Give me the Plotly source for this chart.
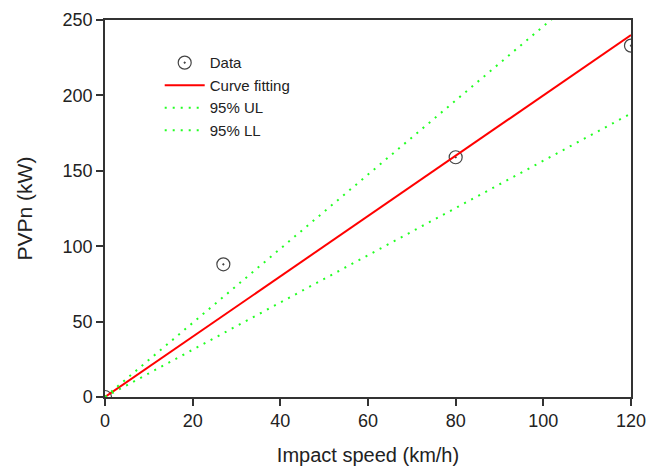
import plotly.graph_objects as go

speed = [0, 27, 80, 120]
pvpn = [0, 88, 159, 233]

fit_x = [0, 120]
fit_y = [0, 240]
ul_x = [0, 120]
ul_y = [0, 295]
ll_x = [0, 120]
ll_y = [0, 188]

fig = go.Figure()
fig.add_trace(go.Scatter(x=speed, y=pvpn, mode="markers", name="Data",
                         marker=dict(symbol="circle-open-dot", size=13,
                                     color="#444444", line=dict(width=1.2))))
fig.add_trace(go.Scatter(x=fit_x, y=fit_y, mode="lines", name="Curve fitting",
                         line=dict(color="#ff0000", width=2)))
fig.add_trace(go.Scatter(x=ul_x, y=ul_y, mode="lines", name="95% UL",
                         line=dict(color="#22ff22", width=2, dash="2px,6px")))
fig.add_trace(go.Scatter(x=ll_x, y=ll_y, mode="lines", name="95% LL",
                         line=dict(color="#22ff22", width=2, dash="2px,6px")))

axis_common = dict(showgrid=False, zeroline=False, showline=True, linecolor="#333333",
                   linewidth=1.5, mirror=True, ticks="outside", ticklen=7, tickwidth=1.5,
                   tickcolor="#333333", tickfont=dict(size=18, color="#222222"),
                   automargin=False)
fig.update_xaxes(range=[0, 120], tickvals=[0, 20, 40, 60, 80, 100, 120],
                 title=dict(text="Impact speed (km/h)", font=dict(size=20, color="#222222"), standoff=20),
                 **axis_common)
fig.update_yaxes(range=[0, 250], tickvals=[0, 50, 100, 150, 200, 250],
                 title=dict(text="PVPn (kW)", font=dict(size=21, color="#222222"), standoff=24),
                 **axis_common)
fig.update_layout(width=648, height=466, margin=dict(l=105, r=17, t=20, b=69),
                  plot_bgcolor="white", paper_bgcolor="white",
                  font=dict(family="Liberation Sans, Arial, sans-serif"),
                  legend=dict(x=0.104, y=0.93, xanchor="left", yanchor="top",
                              bgcolor="rgba(0,0,0,0)", font=dict(size=15, color="#222222"),
                              tracegroupgap=0, itemwidth=40))
fig.write_html("out.html")
